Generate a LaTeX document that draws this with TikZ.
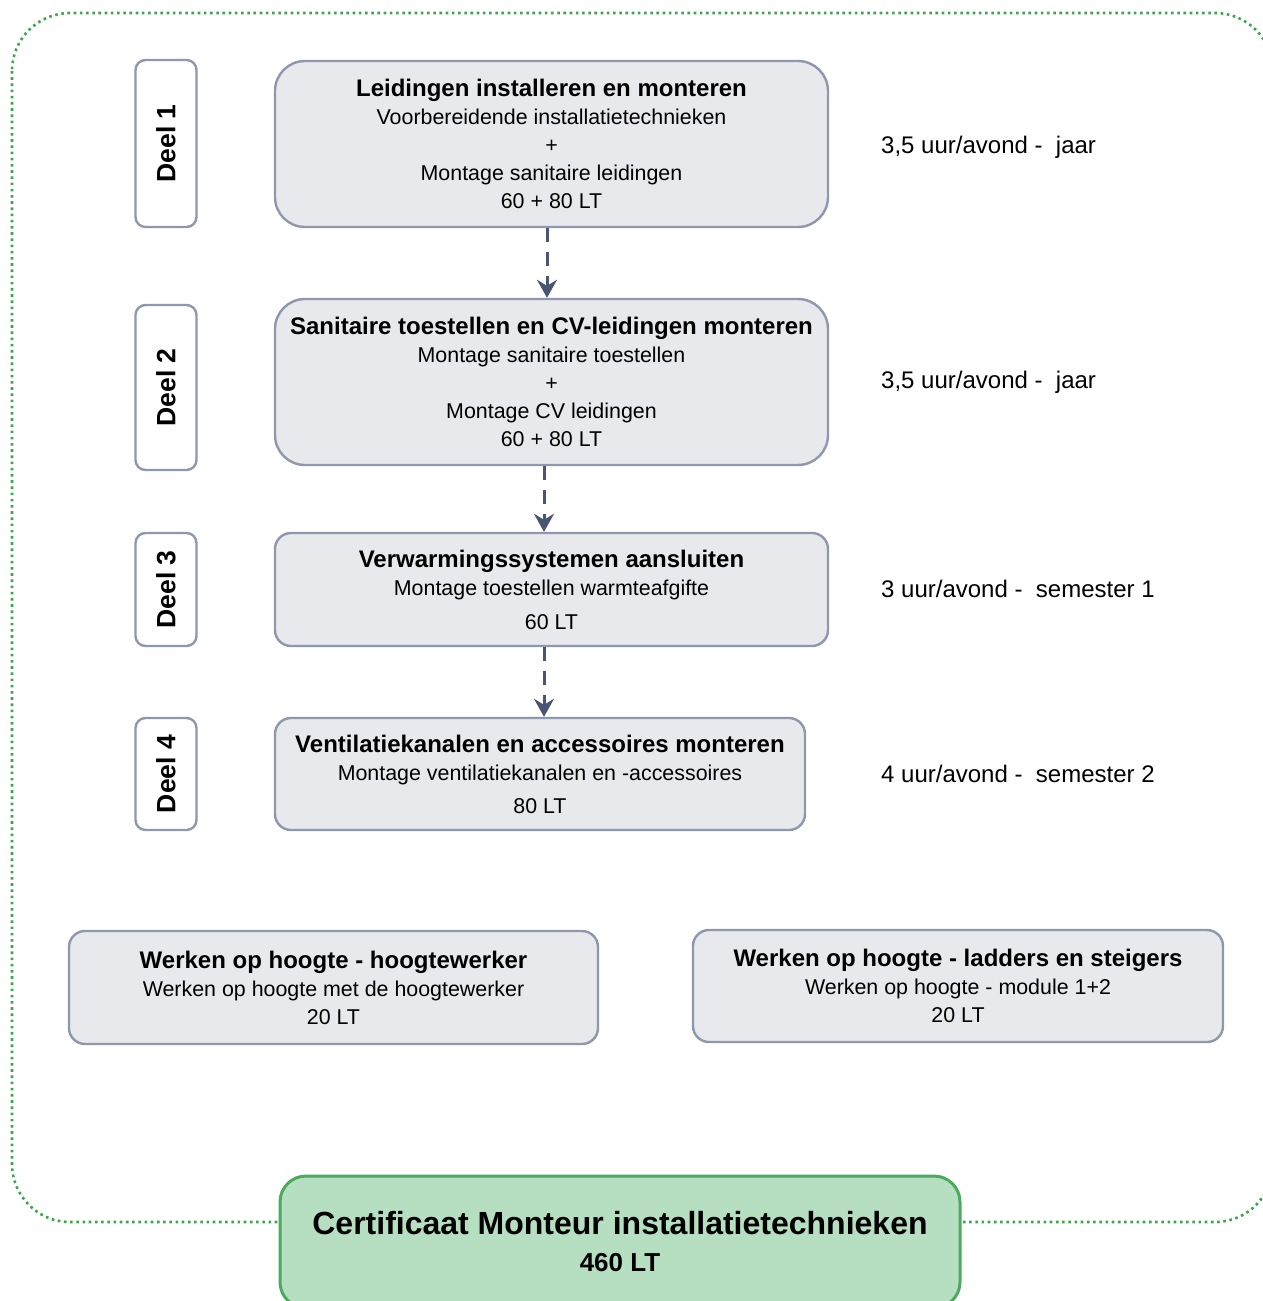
\documentclass[tikz,border=0pt]{standalone}
\usepackage{fontspec}
\setmainfont{Liberation Sans}
\usetikzlibrary{arrows.meta}
\definecolor{randgrijs}{HTML}{8E97AB}
\definecolor{vulgrijs}{HTML}{E8E9ED}
\definecolor{pijlblauw}{HTML}{4A5573}
\definecolor{randgroen}{HTML}{4CAA5C}
\definecolor{vulgroen}{HTML}{B6DEC0}
\definecolor{stipgroen}{HTML}{3AA64C}
\newcommand\titel[1]{{\bfseries\fontsize{24}{28}\selectfont #1}}
\begin{document}
\begin{tikzpicture}[x=1pt, y=-1pt, line join=round,
	>={Stealth[length=18pt,width=20pt,inset=6pt]},
	module/.style={draw=randgrijs, fill=vulgrijs, line width=2.4pt, rounded corners=#1,
		align=center, inner sep=0pt, font=\fontsize{21.4}{28}\selectfont},
	module/.default=16pt,
	deel/.style={draw=randgrijs, fill=white, line width=2.4pt, rounded corners=10pt,
		rotate=90, minimum height=61pt, font=\bfseries\fontsize{26.5}{28}\selectfont},
	tijd/.style={anchor=west, inner sep=0pt, font=\fontsize{24}{28}\selectfont},
	pijl/.style={->, draw=pijlblauw, line width=3pt, dash pattern=on 14pt off 10pt}]
	\useasboundingbox (0,0) rectangle (1263,1301);
	\clip (0,0) rectangle (1263,1301);
	%\draw[gray!30] (0,0) grid[step=100] (1263,1301);
	\draw[stipgroen, line width=2.6pt, dash pattern=on 2.6pt off 3.6pt, rounded corners=58pt]
		(12,13) rectangle (1273,1222);
	% deel labels
	\node[deel, minimum width=167pt] (d1) at (166,143.5) {Deel 1};
	\node[deel, minimum width=165pt] (d2) at (166,387.5) {Deel 2};
	\node[deel, minimum width=113pt] (d3) at (166,589.5) {Deel 3};
	\node[deel, minimum width=112pt] (d4) at (166,774) {Deel 4};
	% modules
	\node[module=30pt, minimum width=553pt, minimum height=166pt] (m1) at (551.5,144)
		{\titel{Leidingen installeren en monteren}\\ Voorbereidende installatietechnieken\\ +\\
		Montage sanitaire leidingen\\ 60 + 80 LT};
	\node[module=30pt, minimum width=553pt, minimum height=166pt] (m2) at (551.5,382)
		{\titel{Sanitaire toestellen en CV-leidingen monteren}\\ Montage sanitaire toestellen\\ +\\
		Montage CV leidingen\\ 60 + 80 LT};
	\node[module, minimum width=553pt, minimum height=113pt] (m3) at (551.5,589.5)
		{\titel{Verwarmingssystemen aansluiten}\\ Montage toestellen warmteafgifte\\[6pt] 60 LT};
	\node[module, minimum width=530pt, minimum height=112pt] (m4) at (540,774)
		{\titel{Ventilatiekanalen en accessoires monteren}\\ Montage ventilatiekanalen en -accessoires\\[5pt] 80 LT};
	\node[module, minimum width=529pt, minimum height=113pt] (h1) at (333.5,987.5)
		{\titel{Werken op hoogte - hoogtewerker}\\ Werken op hoogte met de hoogtewerker\\ 20 LT};
	\node[module, minimum width=530pt, minimum height=112pt] (h2) at (958,986)
		{\titel{Werken op hoogte - ladders en steigers}\\ Werken op hoogte - module 1+2\\ 20 LT};
	% uren
	\node[tijd] (t1) at (881,147.5) {3,5 uur/avond -\ \ jaar};
	\node[tijd] (t2) at (881,382.5) {3,5 uur/avond -\ \ jaar};
	\node[tijd] (t3) at (881,589) {3 uur/avond -\ \ semester 1};
	\node[tijd] (t4) at (881,774) {4 uur/avond -\ \ semester 2};
	% certificaat
	\node[draw=randgroen, fill=vulgroen, line width=3pt, rounded corners=26pt, align=center,
		minimum width=680pt, minimum height=132pt, inner sep=0pt,
		font=\bfseries\fontsize{32}{37}\selectfont] (cert) at (620,1242)
		{Certificaat Monteur installatietechnieken\\
		{\fontsize{26}{37}\selectfont 460 LT}};
	\draw[pijl] ([xshift=-4.5pt]m1.south) -- ([xshift=-4.5pt]m2.north);
	\draw[pijl] ([xshift=-7.5pt]m2.south) -- ([xshift=-7.5pt]m3.north);
	\draw[pijl] ([xshift=-7.5pt]m3.south) -- ([xshift=-7.5pt]m3.south |- m4.north);
\end{tikzpicture}
\end{document}
